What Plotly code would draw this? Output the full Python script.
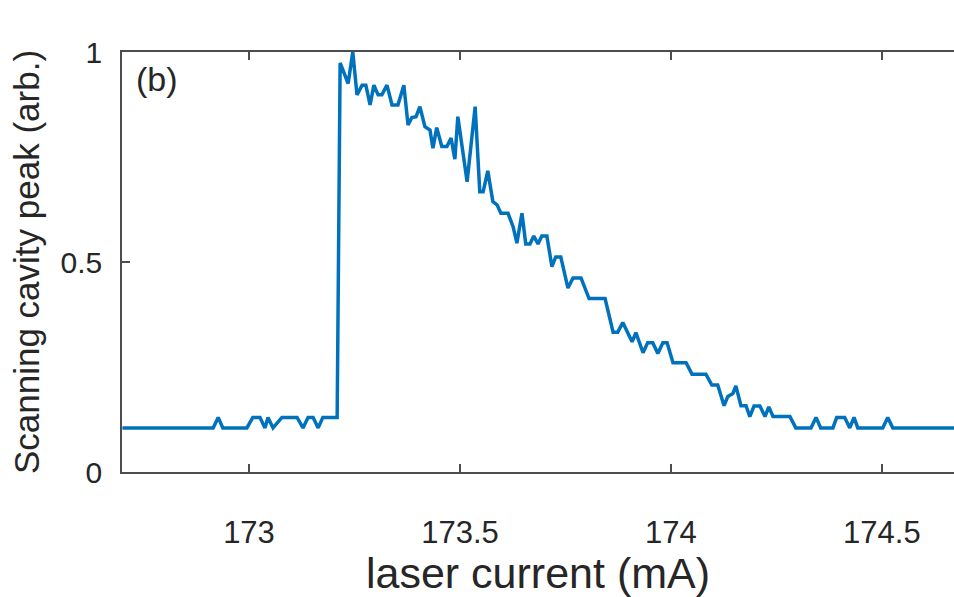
import plotly.graph_objects as go

# Laser current sweep (mA) and normalised scanning-cavity peak height
current_mA = [
    172.700, 172.915, 172.927, 172.938, 172.995, 173.009, 173.026, 173.038,
    173.045, 173.057, 173.078, 173.114, 173.128, 173.140, 173.152, 173.164,
    173.175, 173.209, 173.216, 173.235, 173.246, 173.256, 173.268, 173.277,
    173.287, 173.296, 173.306, 173.315, 173.327, 173.339, 173.353, 173.367,
    173.377, 173.386, 173.396, 173.405, 173.417, 173.429, 173.436, 173.445,
    173.457, 173.469, 173.479, 173.488, 173.495, 173.517, 173.536, 173.547,
    173.555, 173.566, 173.578, 173.588, 173.597, 173.614, 173.626, 173.635,
    173.647, 173.656, 173.666, 173.675, 173.685, 173.694, 173.706, 173.718,
    173.727, 173.739, 173.756, 173.768, 173.787, 173.806, 173.844, 173.863,
    173.874, 173.886, 173.908, 173.917, 173.934, 173.945, 173.957, 173.969,
    173.981, 173.991, 174.005, 174.036, 174.050, 174.083, 174.097, 174.111,
    174.126, 174.135, 174.147, 174.154, 174.166, 174.178, 174.187, 174.197,
    174.211, 174.223, 174.232, 174.242, 174.282, 174.296, 174.332, 174.344,
    174.355, 174.384, 174.393, 174.412, 174.424, 174.434, 174.443, 174.502,
    174.514, 174.526, 174.700,
]
peak_arb = [
    0.105, 0.105, 0.130, 0.105, 0.105, 0.130, 0.130, 0.105,
    0.130, 0.105, 0.130, 0.130, 0.105, 0.130, 0.130, 0.105,
    0.130, 0.130, 0.974, 0.925, 1.000, 0.898, 0.921, 0.921,
    0.874, 0.921, 0.898, 0.898, 0.921, 0.874, 0.874, 0.921,
    0.826, 0.844, 0.846, 0.870, 0.822, 0.814, 0.771, 0.820,
    0.775, 0.775, 0.795, 0.745, 0.846, 0.691, 0.870, 0.667,
    0.667, 0.717, 0.644, 0.636, 0.616, 0.616, 0.584, 0.545,
    0.616, 0.543, 0.543, 0.562, 0.543, 0.562, 0.562, 0.489,
    0.512, 0.512, 0.438, 0.462, 0.462, 0.413, 0.413, 0.333,
    0.333, 0.356, 0.310, 0.332, 0.284, 0.308, 0.308, 0.282,
    0.308, 0.308, 0.260, 0.260, 0.233, 0.233, 0.207, 0.207,
    0.158, 0.180, 0.187, 0.205, 0.158, 0.158, 0.132, 0.157,
    0.157, 0.132, 0.155, 0.132, 0.132, 0.105, 0.105, 0.130,
    0.105, 0.105, 0.130, 0.130, 0.105, 0.130, 0.105, 0.105,
    0.130, 0.105, 0.105,
]

x_ticks = [173, 173.5, 174, 174.5]
x_tick_text = ["173", "173.5", "174", "174.5"]
y_ticks = [0, 0.5, 1]
y_tick_text = ["0", "0.5", "1"]

FONT = "Liberation Sans, Arial, Helvetica, sans-serif"
INK = "#262626"
AXIS = "#4d4d4d"

fig = go.Figure(
    go.Scatter(
        x=current_mA,
        y=peak_arb,
        mode="lines",
        line=dict(color="#0072BD", width=3.5),
        showlegend=False,
    )
)

fig.update_layout(
    width=954,
    height=597,
    margin=dict(l=122, r=0, t=52, b=125),
    paper_bgcolor="white",
    plot_bgcolor="white",
    font=dict(family=FONT, color=INK),
    xaxis=dict(
        range=[172.699, 174.671],
        tickvals=x_ticks,
        ticktext=x_tick_text,
        ticks="inside",
        ticklen=8,
        tickwidth=1.5,
        tickcolor=AXIS,
        showline=True,
        linecolor=AXIS,
        linewidth=1.5,
        mirror="ticks",
        showgrid=False,
        zeroline=False,
        tickfont=dict(size=31, color=INK),
        ticklabelstandoff=32,
        title=dict(text="laser current (mA)", font=dict(size=43, color=INK), standoff=5),
    ),
    yaxis=dict(
        range=[0, 1],
        tickvals=y_ticks,
        ticktext=y_tick_text,
        ticks="inside",
        ticklen=8,
        tickwidth=1.5,
        tickcolor=AXIS,
        showline=True,
        linecolor=AXIS,
        linewidth=1.5,
        mirror=False,
        showgrid=False,
        zeroline=False,
        tickfont=dict(size=30, color=INK),
        ticklabelstandoff=12,
        title=dict(text="Scanning cavity peak (arb.)", font=dict(size=35, color=INK), standoff=10),
    ),
    annotations=[
        dict(
            text="(b)",
            xref="paper",
            yref="paper",
            x=0.015,
            y=0.985,
            xanchor="left",
            yanchor="top",
            showarrow=False,
            font=dict(size=34, color=INK, family=FONT),
        )
    ],
)

fig.write_html("out.html")
